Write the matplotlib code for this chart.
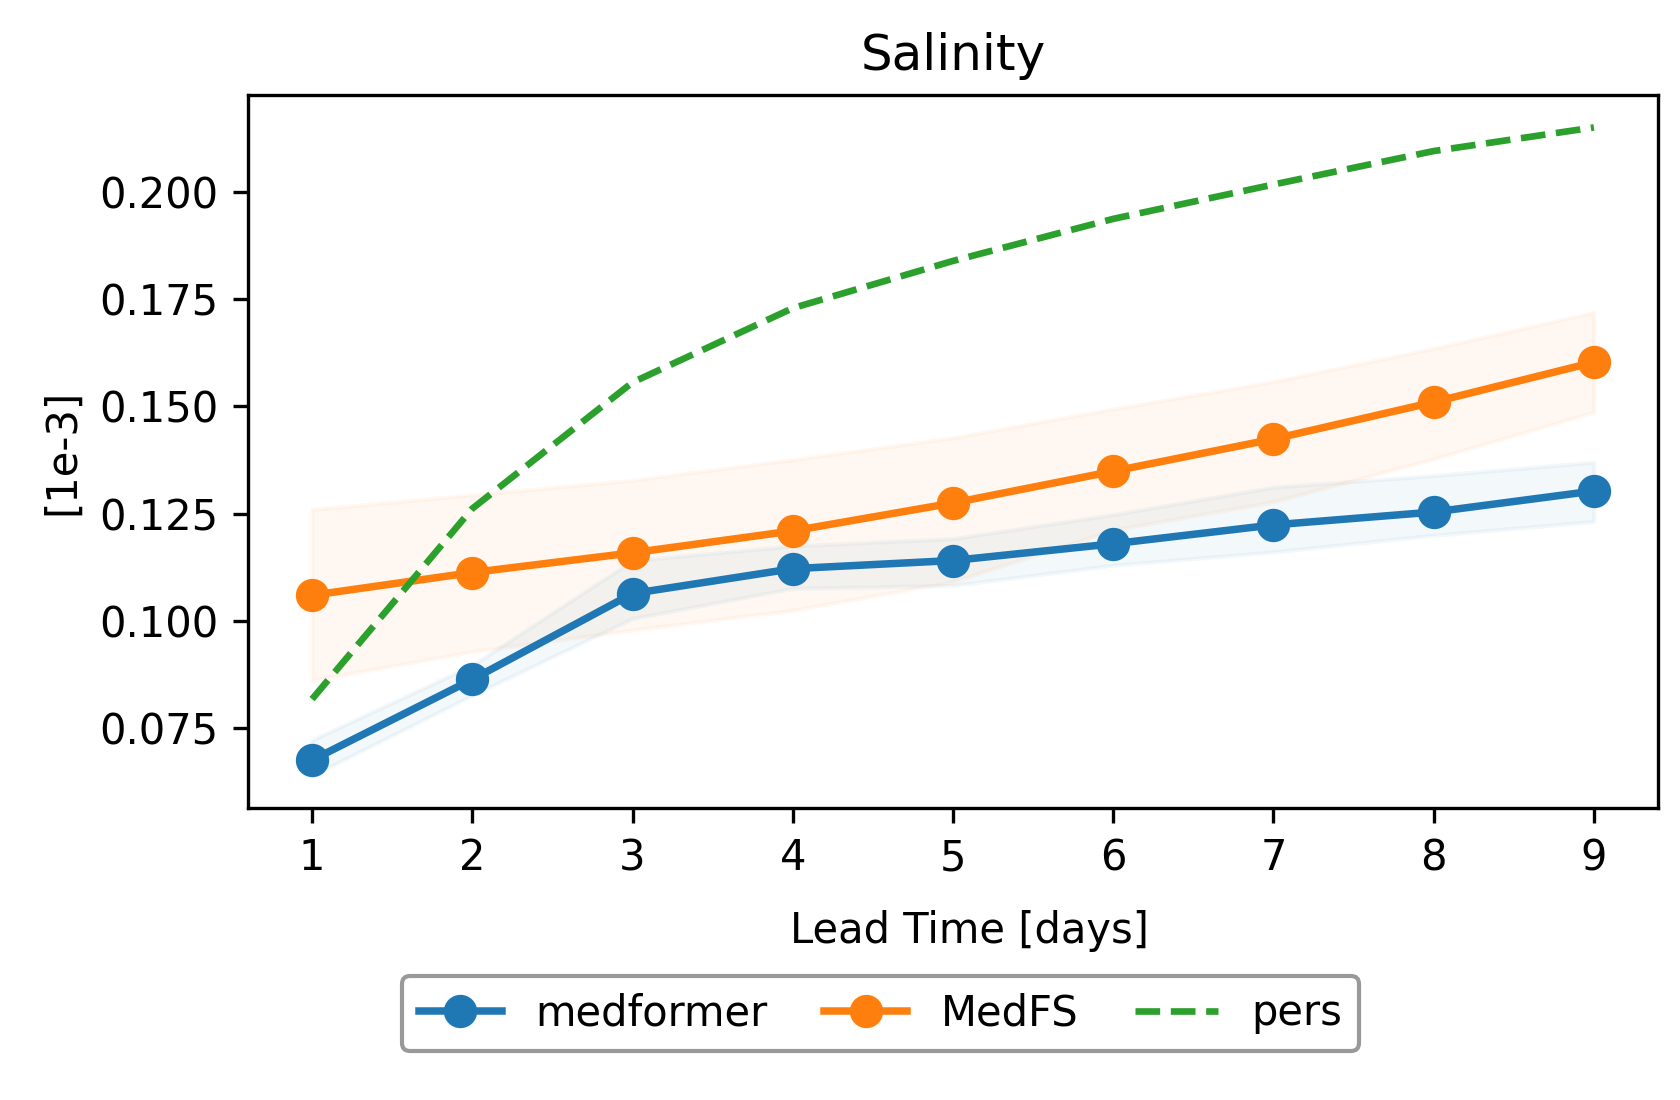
import numpy as np
import matplotlib
matplotlib.use("Agg")
import matplotlib.pyplot as plt

# lead times (days)
lead_days = [1, 2, 3, 4, 5, 6, 7, 8, 9]

# medformer RMSE and spread band
medformer = [0.0676, 0.0864, 0.1064, 0.1122, 0.1141, 0.1180, 0.1224, 0.1254, 0.1303]
medformer_hi = [0.0723, 0.0897, 0.1141, 0.1175, 0.1192, 0.1248, 0.1312, 0.1339, 0.1370]
medformer_lo = [0.0640, 0.0827, 0.1006, 0.1076, 0.1083, 0.1130, 0.1161, 0.1200, 0.1232]

# MedFS RMSE and spread band
medfs = [0.1060, 0.1113, 0.1159, 0.1210, 0.1275, 0.1349, 0.1424, 0.1510, 0.1603]
medfs_hi = [0.1260, 0.1294, 0.1328, 0.1376, 0.1427, 0.1494, 0.1558, 0.1635, 0.1719]
medfs_lo = [0.0862, 0.0929, 0.0979, 0.1025, 0.1092, 0.1212, 0.1278, 0.1378, 0.1487]

# persistence
pers = [0.0818, 0.1262, 0.1556, 0.1729, 0.1839, 0.1937, 0.2017, 0.2095, 0.2150]


def plot_data():
    fig = plt.figure(figsize=(5.6, 1100 / 300), dpi=300)
    ax = fig.add_axes([0.1476, 0.2655, 0.8393, 0.6481])

    # shaded bands first, then the lines on top
    ax.fill_between(lead_days, medformer_lo, medformer_hi, color='tab:blue', alpha=0.05)
    ax.fill_between(lead_days, medfs_lo, medfs_hi, color='tab:orange', alpha=0.05)

    ax.plot(lead_days, medformer, marker='o', color='tab:blue', lw=1.8, ms=7, label='medformer')
    ax.plot(lead_days, medfs, marker='o', color='tab:orange', lw=1.8, ms=7, label='MedFS')
    ax.plot(lead_days, pers, linestyle='--', color='tab:green', lw=1.6, label='pers')

    ax.set_title('Salinity')
    ax.set_xlabel('Lead Time [days]')
    ax.xaxis.set_label_coords(0.512, -0.143)
    ax.set_ylabel('[1e-3]')
    ax.set_xticks(lead_days)
    ax.set_yticks([0.075, 0.100, 0.125, 0.150, 0.175, 0.200])
    ax.yaxis.set_major_formatter(matplotlib.ticker.FormatStrFormatter('%.3f'))

    fig.legend(loc='lower left', bbox_to_anchor=(0.2393, 0.0445, 0.5696, 0.07),
               mode='expand', ncol=3, borderaxespad=0, edgecolor='gray')

    fig.savefig('out.png', dpi=300)


if __name__ == "__main__":
    plot_data()
